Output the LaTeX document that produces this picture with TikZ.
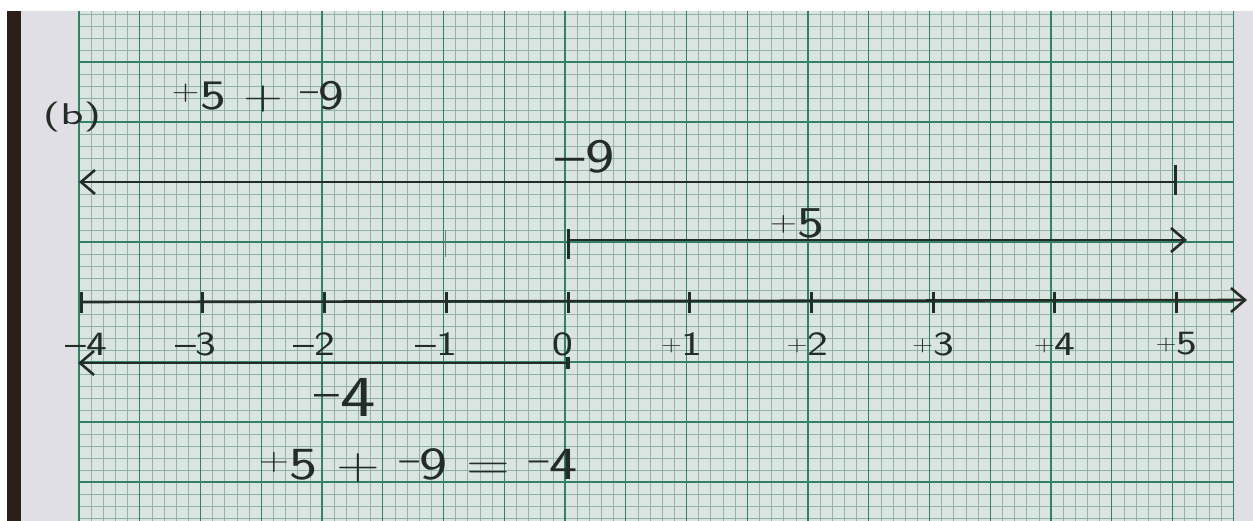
\documentclass[tikz,border=0pt]{standalone}
\usepackage{fontspec}
\usetikzlibrary{arrows.meta, positioning, calc}

\definecolor{paper}{RGB}{224,223,229}
\definecolor{sheet}{RGB}{218,228,224}
\definecolor{gridmajor}{RGB}{52,128,98}
\definecolor{gridminor}{RGB}{146,178,165}
\definecolor{ink}{RGB}{36,44,40}
\definecolor{wood}{RGB}{44,30,24}

\newcommand{\lift}[1]{\raisebox{0.12em}{\scalebox{0.65}{#1}}}

\begin{document}
\begin{tikzpicture}[
    x=1pt, y=-1pt,
    >={Straight Barb[length=14pt, width=24pt]},
    inkline/.style={draw=ink, line width=2.6pt, line cap=round},
    tickmark/.style={draw=ink, line width=3pt},
    minorline/.style={draw=gridminor, line width=0.7pt},
    majorline/.style={draw=gridmajor, line width=1.2pt},
    hand/.style={text=ink, inner sep=0pt, xscale=1.3,
                 font=\sffamily\fontsize{#1}{#1}\selectfont},
    hand/.default=36
  ]
  \useasboundingbox (0,0) rectangle (1253,521);
  \fill[white] (0,0) rectangle (1253,521);
  \fill[paper] (7,11) rectangle (1253,521);
  \fill[wood] (7,11) rectangle (21,521);
  \fill[sheet] (79,11) rectangle (1233,521);

  \foreach \i in {0,...,95}
    \draw[minorline] ({79+12.15*\i},11) -- ({79+12.15*\i},521);
  \foreach \j in {-4,...,38}
    \draw[minorline] (79,{62+12*\j}) -- (1233,{62+12*\j});
  \foreach \i in {0,...,19}
    \draw[majorline] ({79+60.75*\i},11) -- ({79+60.75*\i},521);
  \foreach \j in {0,...,7}
    \draw[majorline] (79,{62+60*\j}) -- (1233,{62+60*\j});

  \node[hand=30, xscale=1.23] (part) at (72,117) {(b)};
  \node[hand=42] (sum) at (258,97) {\textsuperscript{+}5 + \textsuperscript{--}9};

  \foreach \n in {-4,...,5}
    \coordinate (t\n) at ({568+121.7*\n},302);
  \coordinate (axisend) at (1247,300);
  \draw[inkline, ->] (t-4) -- (axisend);
  \foreach \n in {-4,...,5}
    \draw[tickmark] ($(t\n)+(0,-10)$) -- ($(t\n)+(0,11)$);
  \foreach \n/\lab/\dx in {-4/--4/5, -3/--3/-7, -2/--2/-10, -1/--1/-10,
                           0/0/-5, 1/\lift{+}1/-8, 2/\lift{+}2/-4,
                           3/\lift{+}3/0, 4/\lift{+}4/0, 5/\lift{+}5/0}
    \node[hand=34] (l\n) at ($(t\n)+(\dx,42)$) {\lab};

  \coordinate (nineA) at (1175,182);
  \coordinate (nineB) at (79,182);
  \draw[inkline, ->] (nineA) -- (nineB);
  \draw[tickmark] ($(nineA)+(0,-17)$) -- ($(nineA)+(0,13)$);
  \node[hand=48] (nine) at (585,157) {--9};

  \coordinate (fiveA) at (568,240);
  \coordinate (fiveB) at (1187,240);
  \draw[inkline, ->] (fiveA) -- (fiveB);
  \draw[tickmark] ($(fiveA)+(0,-11)$) -- ($(fiveA)+(0,19)$);
  \node[hand=44] (five) at (797,223) {\lift{+}5};
  \coordinate (stray) at (445,230);
  \draw[draw=ink!60, line width=1pt] (stray) -- ($(stray)+(0,27)$);

  \coordinate (fourA) at (568,363);
  \coordinate (fourB) at (78,363);
  \draw[inkline, ->] (fourA) -- (fourB);
  \draw[tickmark, line width=4pt] ($(fourA)+(0,-6)$) -- ($(fourA)+(0,6)$);
  \node[hand=58] (four) at (345,397) {\textsuperscript{--}4};

  \node[hand=46] (result) at (418,466)
    {\textsuperscript{+}5 + \textsuperscript{--}9 = \textsuperscript{--}4};
\end{tikzpicture}
\end{document}
